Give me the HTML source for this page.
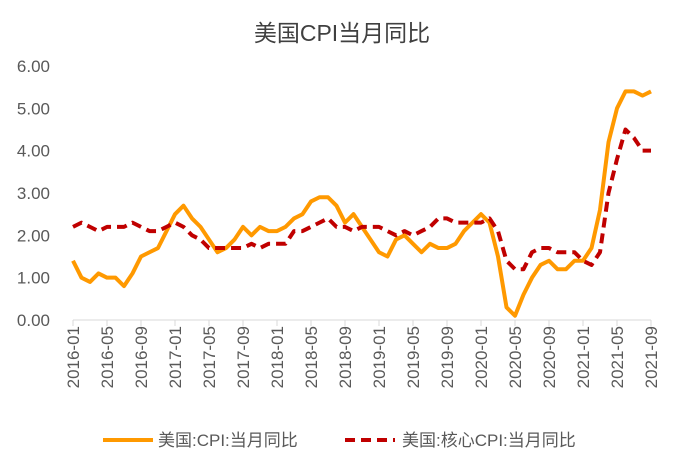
<!DOCTYPE html>
<html><head><meta charset="utf-8"><style>
body{margin:0;background:#fff;}
svg{display:block;font-family:"Liberation Sans","Noto Sans CJK SC",sans-serif;}
</style></head><body>
<svg id="c" width="685" height="473">
<text x="342" y="41" text-anchor="middle" font-size="23" fill="#404040">美国CPI当月同比</text>
<g id="axes"></g><g id="series"></g>
<g>
<line x1="103" y1="440" x2="153" y2="440" stroke="#FF9900" stroke-width="4"/>
<text x="158" y="446" font-size="17" fill="#595959">美国:CPI:当月同比</text>
<line x1="345" y1="440" x2="395" y2="440" stroke="#C00000" stroke-width="4" stroke-dasharray="10,6"/>
<text x="402" y="446" font-size="17" fill="#595959">美国:核心CPI:当月同比</text>
</g>
</svg>
<script>
const yTicks=[0,1,2,3,4,5,6];
const cpi=[1.4,1.0,0.9,1.1,1.0,1.0,0.8,1.1,1.5,1.6,1.7,2.1,
2.5,2.7,2.4,2.2,1.9,1.6,1.7,1.9,2.2,2.0,2.2,2.1,
2.1,2.2,2.4,2.5,2.8,2.9,2.9,2.7,2.3,2.5,2.2,1.9,
1.6,1.5,1.9,2.0,1.8,1.6,1.8,1.7,1.7,1.8,2.1,2.3,
2.5,2.3,1.5,0.3,0.1,0.6,1.0,1.3,1.4,1.2,1.2,1.4,
1.4,1.7,2.6,4.2,5.0,5.4,5.4,5.3,5.4];
const core=[2.2,2.3,2.2,2.1,2.2,2.2,2.2,2.3,2.2,2.1,2.1,2.2,
2.3,2.2,2.0,1.9,1.7,1.7,1.7,1.7,1.7,1.8,1.7,1.8,
1.8,1.8,2.1,2.1,2.2,2.3,2.4,2.2,2.2,2.1,2.2,2.2,
2.2,2.1,2.0,2.1,2.0,2.1,2.2,2.4,2.4,2.3,2.3,2.3,
2.3,2.4,2.1,1.4,1.2,1.2,1.6,1.7,1.7,1.6,1.6,1.6,
1.4,1.3,1.6,3.0,3.8,4.5,4.3,4.0,4.0];
const months=[];for(let y=2016;y<=2021;y++)for(let m=1;m<=12;m++){if(y==2021&&m>9)break;months.push(y+'-'+String(m).padStart(2,'0'));}
const L=73,R=651,Y0=320,Y6=66;
const xs=i=>L+(R-L)*i/(months.length-1);
const ys=v=>Y0-(Y0-Y6)*v/6;
const NS='http://www.w3.org/2000/svg';
const ax=document.getElementById('axes'),se=document.getElementById('series');
function mk(tag,attrs,parent){const e=document.createElementNS(NS,tag);for(const k in attrs)e.setAttribute(k,attrs[k]);parent.appendChild(e);return e;}
yTicks.forEach(v=>{const t=mk('text',{x:50,y:ys(v)+6,'text-anchor':'end','font-size':17,fill:'#595959'},ax);t.textContent=v.toFixed(2);

});
const al=mk('line',{x1:L,y1:Y0,x2:R,y2:Y0,stroke:'#d9d9d9','stroke-width':1},ax);


months.forEach((m,i)=>{if(i%4)return;const x=xs(i);
const tk=mk('line',{x1:x,y1:Y0,x2:x,y2:Y0+6,stroke:'#d9d9d9'},ax);


const t=mk('text',{x:0,y:0,'text-anchor':'end','font-size':17,fill:'#595959',transform:`translate(${x+6},${Y0+6}) rotate(-90)`},ax);t.textContent=m;

});
function line(d,color,dash,name){const p=mk('polyline',{points:d.map((v,i)=>xs(i)+','+ys(v)).join(' '),fill:'none',stroke:color,'stroke-width':4,'stroke-linejoin':'round'},se);if(dash)p.setAttribute('stroke-dasharray',dash);

}
line(cpi,'#FF9900',null,'cpi-line');
line(core,'#C00000','10,6','core-cpi-line');
</script>
</body></html>
